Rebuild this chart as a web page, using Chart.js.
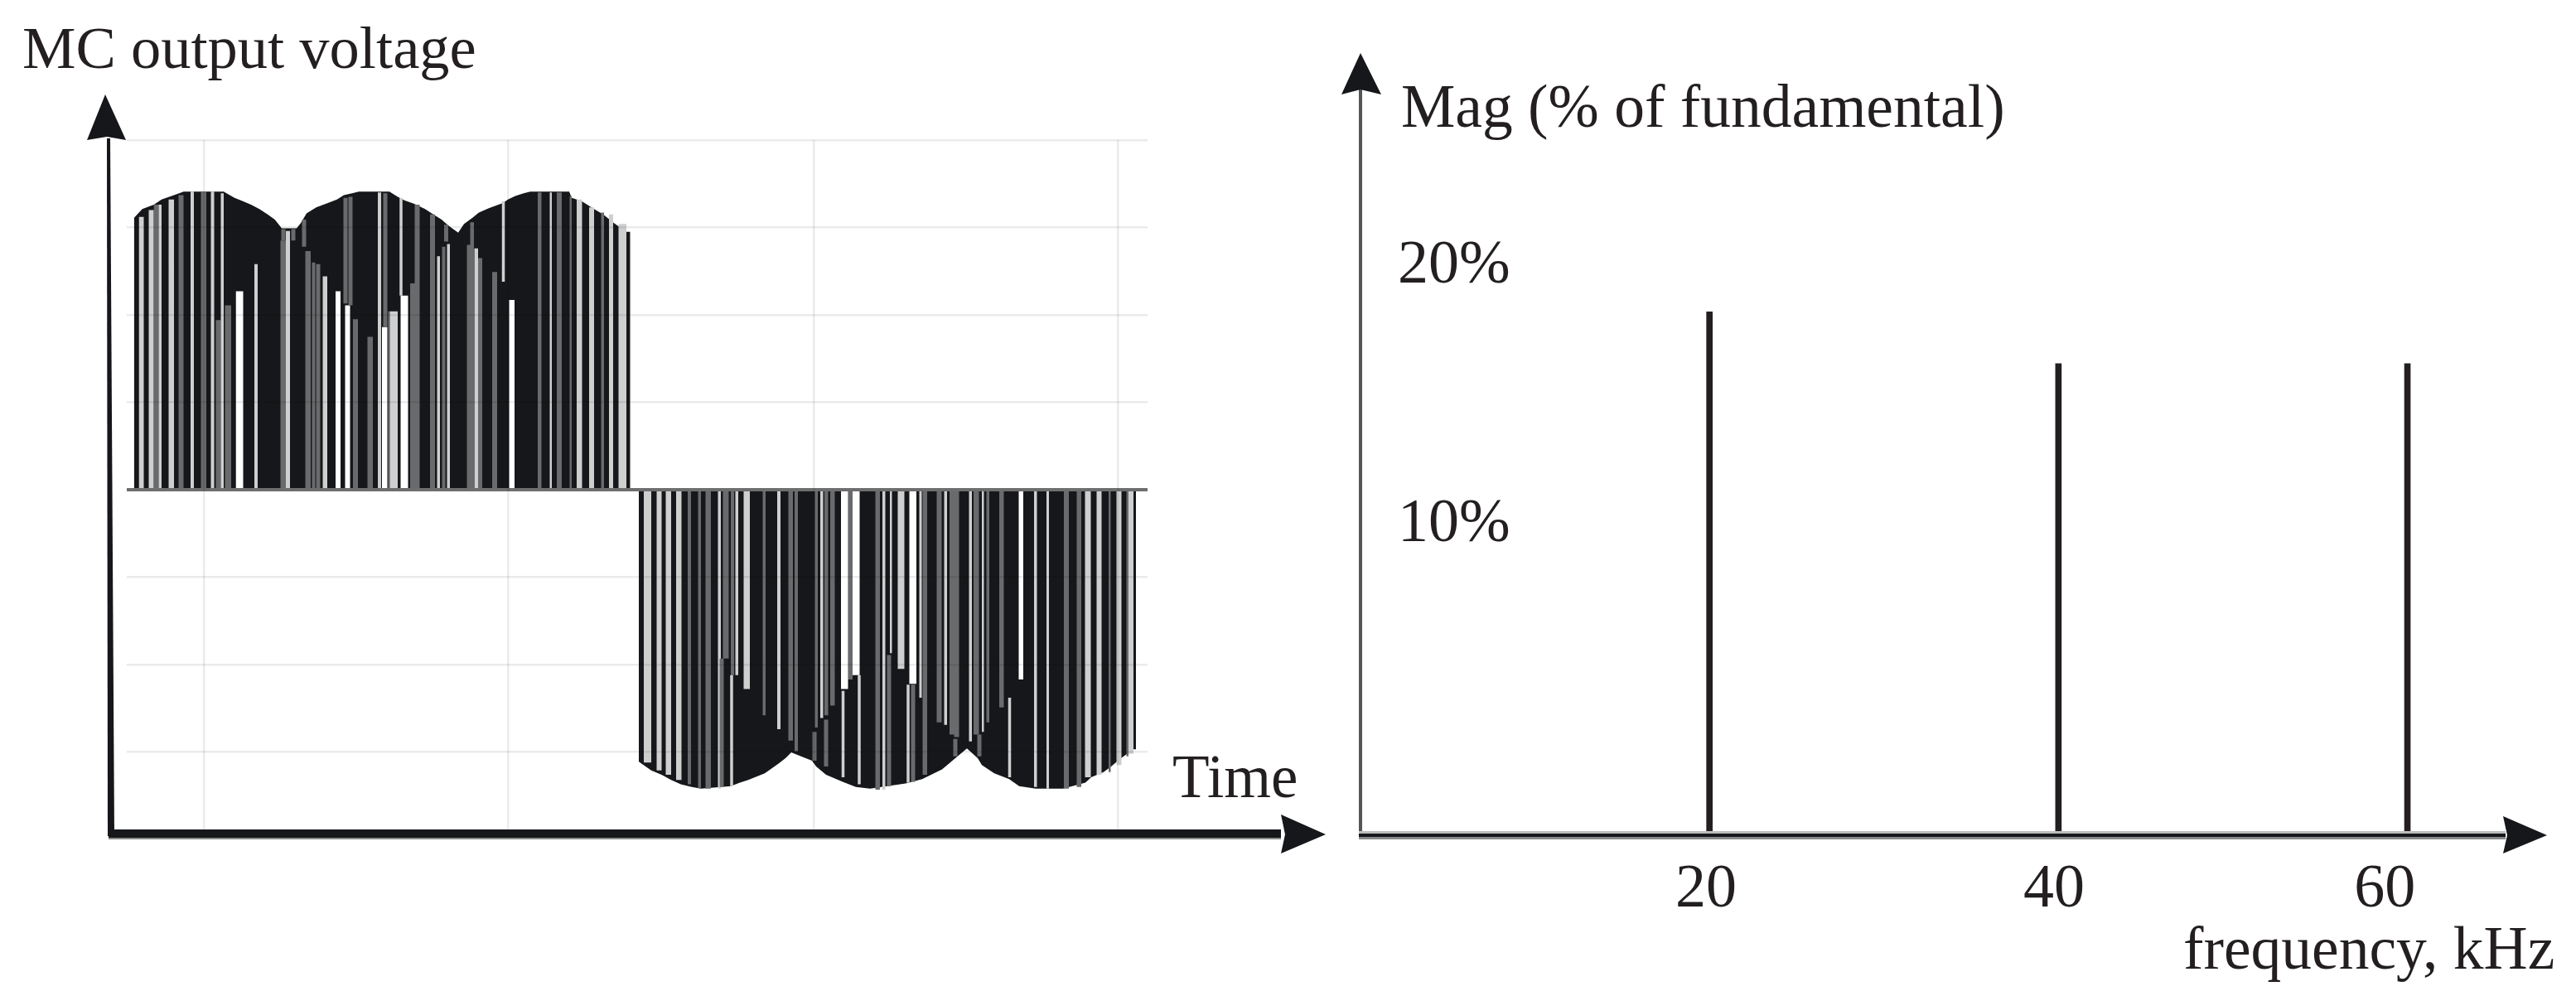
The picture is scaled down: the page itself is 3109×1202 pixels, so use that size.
<!DOCTYPE html>
<html>
<head>
<meta charset="utf-8">
<title>MC output voltage and spectrum</title>
<script src="https://cdn.jsdelivr.net/npm/chart.js@4"></script>
<style>
  html, body { margin: 0; padding: 0; background: #fff; overflow: hidden; }
  body { width: 3109px; height: 1202px; position: relative; filter: blur(.6px); }
  canvas { position: absolute; top: 0; }
  #voltage-chart { left: 0; }
  #spectrum-chart { left: 1610px; }
  .caption { position: absolute; font: 73.5px/72px "Liberation Serif", serif; color: #231f20; white-space: nowrap; }
</style>
</head>
<body>
<canvas id="voltage-chart" width="1610" height="1202"></canvas>
<canvas id="spectrum-chart" width="1499" height="1202"></canvas>
<div class="caption" style="left:27px;top:22px;font-size:72.5px">MC output voltage</div>
<div class="caption" style="left:1415px;top:902px;font-size:73px">Time</div>
<div class="caption" style="left:1691px;top:93px">Mag (% of fundamental)</div>
<div class="caption" style="left:2635px;top:1109px">frequency, kHz</div>
<script>
// ── Spectrum data ────────────────────────────────────────────────
const freqKHz = [20, 40, 60];
const magPct = [18.2, 16.4, 16.4];
const freqTickPos = [19.8, 39.75, 58.7];
const freqTickLabels = ['20', '40', '60'];
const magTickPos = [10.78, 19.77];
const magTickLabels = ['10%', '20%'];

// ── Waveform data ────────────────────────────────────────────────
const timeGrid = [93, 460, 829, 1196];
const voltGrid = [400, 300, 200, 100, -100, -200, -300];

// envelope: time, level
const posEnvTime = [8.7, 18.7, 32.7, 42, 57, 68.7, 117, 130, 140, 150, 160, 170, 178.7, 183.7, 187, 205, 210, 217, 228.7, 240, 253.7, 262, 272, 280, 317, 327, 335, 347, 360, 370, 380, 387, 394, 400, 407, 417, 425, 437, 454, 460, 469, 479, 487, 534, 537, 549, 564, 575, 588, 603];
const posEnvVolt = [311, 321, 326, 332, 337, 341, 341, 334, 330, 326, 321, 315, 309, 303, 299, 299, 305, 316, 323, 327, 332, 337, 339, 341, 341, 335, 331, 327, 321, 315, 309, 303, 298, 294, 304, 311, 317, 322, 328, 332, 336, 339, 341, 341, 334, 330, 321, 315, 305, 295];
const posEndTime = 607.7;
const negEnvTime = [618, 633, 645.5, 657, 668.7, 682, 693, 729, 740, 750, 770, 787, 795, 802, 815, 827, 832, 844, 864, 880, 897, 940, 960, 984, 1000, 1014, 1027, 1032, 1047, 1065, 1077, 1097, 1130, 1157, 1164, 1179, 1188, 1200, 1215];
const negEnvVolt = [-311, -321, -326, -332, -337, -340, -342, -339, -335, -332, -324.5, -313, -307, -300.5, -305.5, -310, -316.5, -326, -334, -340, -342, -336, -331, -320, -307, -296, -307, -315, -324.5, -331, -339, -342, -342, -335, -329, -323, -316.5, -307, -297];
const negEndTime = 1218;

// gaps in the pulse train: start, end, level the white reaches
const posGapsWhite = [[131.5, 140.5, 227], [252, 258, 227], [263.5, 269.5, 211], [308, 314.5, 186], [330.5, 339.5, 222], [461.5, 468, 217]];
const posGapsLight = [[14.5, 20.5, 312], [26.5, 32.5, 320], [38.5, 42, 326], [50.5, 57, 332], [77, 81, 341], [101.5, 105.5, 341], [113.5, 117, 339], [154, 158, 258], [192, 197, 296], [236.5, 242, 244], [303, 307, 340], [317.5, 327, 204], [374.5, 378, 267], [386.5, 390, 281], [419.5, 424, 276], [510.5, 513, 340], [543, 549.5, 332], [558, 564, 323], [582, 587, 315], [593.5, 603, 304]];
const posGapsGrey = [[32.5, 38.5, 326], [62.5, 68.5, 337], [89.5, 96, 341], [107.5, 113.5, 194], [118.5, 126, 211], [185.5, 192, 285], [215.5, 222, 273], [223.5, 227.5, 260], [228.5, 233.5, 258], [273, 279, 195], [290.5, 297, 175], [315.5, 317.5, 204], [342, 347.5, 236], [347.5, 353.5, 326], [366, 372, 315], [380.5, 384.5, 278], [410.5, 414.5, 280], [414.5, 419, 306], [424, 429, 265], [441, 447, 249], [496, 500.5, 340], [519, 525, 340], [534.5, 537, 336], [572.5, 576, 317]];
const negGapsWhite = [[862, 870.5, -228], [876, 884.5, -212], [944.5, 953, -222], [1076.5, 1082, -217]];
const negGapsLight = [[624, 633, -312], [639.5, 645.5, -321], [650.5, 657, -326], [663, 669.5, -332], [713.5, 717, -342], [734.5, 738, -212], [744.5, 752, -228], [785, 789, -274], [837, 840.5, -261], [912, 915.5, -343], [921, 923.5, -187], [930.5, 938.5, -205], [956.5, 959.5, -238], [986.5, 990, -269], [1016.5, 1020, -288], [1032, 1034.5, -277], [1095, 1098.5, -340], [1110, 1113, -342], [1156.5, 1163.5, -329], [1170.5, 1176.5, -326], [1194.5, 1200.5, -315], [1209, 1215, -302]];
const negGapsGrey = [[677, 681, -337], [689.5, 693, -341], [698.5, 705, -342], [719.5, 726.5, -193], [729, 733, -212], [767.5, 771, -258], [798.5, 804, -287], [806, 810, -299], [830.5, 834, -272], [842, 846.5, -258], [849, 854.5, -247], [870.5, 876, -217], [903.5, 909, -343], [960.5, 966, -326], [977.5, 983.5, -266], [993, 998.5, -280], [998.5, 1004.5, -283], [1022, 1028.5, -280], [1037.5, 1041, -266], [1053, 1058.5, -249], [1131, 1137, -342], [1146.5, 1152, -340], [1185, 1187.5, -323], [1206.5, 1209, -305]];

// narrow slits that don't reach the zero line: time, from, to
const slitsGrey = [[189, 298, 285], [201, 298, 285], [214, 309, 278], [264, 334, 213], [270, 335, 211], [312, 339, 186], [385.5, 303, 284], [718, -193, -340], [830, -277, -310], [844, -263, -316.5], [920, -189, -339], [949, -223, -334], [1000, -285, -305], [1029, -280, -305]];
const slitsLight = [[331, 334, 222], [454.5, 330, 238], [730, -212, -339], [864.5, -230, -329], [884, -212, -337], [943, -223, -335], [1065.5, -238, -329]];

const zeroLineTime = [0, 1232];

// ── Builders ─────────────────────────────────────────────────────
const envPoints = (times, volts, end) => [
  { x: times[0], y: 0 },
  ...times.map((x, i) => ({ x, y: volts[i] })),
  { x: end, y: volts[volts.length - 1] },
  { x: end, y: 0 }
];
const gapPoints = (gaps) => gaps.flatMap(([a, b, v]) => [{ x: a, y: 0 }, { x: a, y: v }, { x: b, y: v }, { x: b, y: 0 }]);
const slitPoints = (slits) => slits.flatMap(([t, a, b]) => [{ x: t, y: a }, { x: t, y: b }, { x: t, y: null }]);

const filled = (data, color, order) => ({ data, order, backgroundColor: color, borderWidth: 0, pointRadius: 0, fill: 'origin', tension: 0 });
const slit = (data, color, width, order) => ({ data, order, borderColor: color, borderWidth: width, pointRadius: 0, fill: false, spanGaps: false });

const BLACK = '#15171a', LIGHT = '#cfcfcf', GREY = '#686a6c';

// ── Axis arrows ──────────────────────────────────────────────────
const poly = (ctx, color, pts) => {
  ctx.fillStyle = color;
  ctx.beginPath();
  pts.forEach(([x, y], i) => i ? ctx.lineTo(x, y) : ctx.moveTo(x, y));
  ctx.closePath();
  ctx.fill();
};

const voltageAxes = {
  id: 'voltageAxes',
  afterDraw(chart) {
    const { ctx, chartArea: a } = chart;
    ctx.save();
    poly(ctx, '#8a8a8a', [[a.left - 22, a.bottom + 7], [a.left + 1393, a.bottom + 7], [a.left + 1393, a.bottom + 12], [a.left - 22, a.bottom + 12]]);
    poly(ctx, BLACK, [[a.left - 22, a.bottom], [a.left + 1393, a.bottom], [a.left + 1393, a.bottom + 10], [a.left - 22, a.bottom + 10]]);
    poly(ctx, BLACK, [[a.left + 1393, a.bottom - 18], [a.left + 1447, a.bottom + 6], [a.left + 1393, a.bottom + 29], [a.left + 1398, a.bottom + 6]]);
    poly(ctx, BLACK, [[a.left - 24, a.top - 2], [a.left - 20, a.top - 2], [a.left - 15, a.bottom + 8], [a.left - 23, a.bottom + 8]]);
    poly(ctx, BLACK, [[a.left - 26, a.top - 55], [a.left - 1, a.top], [a.left - 24, a.top - 4], [a.left - 48, a.top]]);
    ctx.restore();
  }
};

const spectrumAxes = {
  id: 'spectrumAxes',
  afterDraw(chart) {
    const { ctx, chartArea: a } = chart;
    ctx.save();
    poly(ctx, '#555', [[a.left - 2, a.top + 40], [a.left + 2, a.top + 40], [a.left + 2, a.bottom], [a.left - 2, a.bottom]]);
    poly(ctx, '#bdbdbd', [[a.left - 2, a.bottom - 5], [a.right - 50, a.bottom - 5], [a.right - 50, a.bottom + 1], [a.left - 2, a.bottom + 1]]);
    poly(ctx, '#8a8a8a', [[a.left - 2, a.bottom + 1], [a.right - 50, a.bottom + 1], [a.right - 50, a.bottom + 5], [a.left - 2, a.bottom + 5]]);
    poly(ctx, BLACK, [[a.left - 2, a.bottom - 2], [a.right - 50, a.bottom - 2], [a.right - 50, a.bottom + 2], [a.left - 2, a.bottom + 2]]);
    poly(ctx, BLACK, [[a.right - 53, a.bottom - 23], [a.right, a.bottom], [a.right - 53, a.bottom + 22], [a.right - 48, a.bottom]]);
    poly(ctx, BLACK, [[a.left, a.top], [a.left + 25, a.top + 50], [a.left, a.top + 44], [a.left - 23, a.top + 50]]);
    ctx.restore();
  }
};

// ── Left chart: output voltage ───────────────────────────────────
new Chart(document.getElementById('voltage-chart'), {
  type: 'line',
  data: {
    datasets: [
      filled(envPoints(posEnvTime, posEnvVolt, posEndTime), BLACK, 20),
      filled(envPoints(negEnvTime, negEnvVolt, negEndTime), BLACK, 19),
      filled(gapPoints(posGapsGrey), GREY, 18),
      filled(gapPoints(negGapsGrey), GREY, 17),
      filled(gapPoints(posGapsLight), LIGHT, 16),
      filled(gapPoints(negGapsLight), LIGHT, 15),
      filled(gapPoints(posGapsWhite), '#fff', 14),
      filled(gapPoints(negGapsWhite), '#fff', 13),
      slit(slitPoints(slitsGrey), GREY, 5, 12),
      slit(slitPoints(slitsLight), LIGHT, 3.5, 11),
      { data: zeroLineTime.map(x => ({ x, y: 0 })), order: 1, borderColor: '#6e6e6e', borderWidth: 4, pointRadius: 0, fill: false }
    ]
  },
  options: {
    responsive: false,
    animation: false,
    events: [],
    layout: { padding: { left: 153, top: 169, right: 225, bottom: 201 } },
    plugins: { legend: { display: false }, tooltip: { enabled: false } },
    scales: {
      x: {
        type: 'linear', min: 0, max: 1232,
        afterBuildTicks: axis => { axis.ticks = timeGrid.map(value => ({ value })); },
        ticks: { display: false },
        border: { display: false },
        grid: { z: 1, color: 'rgba(0,0,0,0.08)', lineWidth: 2.5, drawTicks: false }
      },
      y: {
        type: 'linear', min: -388.6, max: 400,
        afterBuildTicks: axis => { axis.ticks = voltGrid.map(value => ({ value })); },
        ticks: { display: false },
        border: { display: false },
        grid: { z: 1, color: 'rgba(0,0,0,0.08)', lineWidth: 2.5, drawTicks: false }
      }
    }
  },
  plugins: [voltageAxes]
});

// ── Right chart: harmonic spectrum ───────────────────────────────
const tickFont = { family: '"Liberation Serif", serif', size: 74 };

new Chart(document.getElementById('spectrum-chart'), {
  type: 'bar',
  data: {
    datasets: [{
      data: freqKHz.map((x, i) => ({ x, y: magPct[i] })),
      backgroundColor: '#231f20',
      barThickness: 7
    }]
  },
  options: {
    responsive: false,
    animation: false,
    events: [],
    layout: { padding: { left: 32, top: 64, right: 35, bottom: 0 } },
    plugins: { legend: { display: false }, tooltip: { enabled: false } },
    scales: {
      x: {
        type: 'linear', min: 0, max: 68, offset: false,
        afterBuildTicks: axis => { axis.ticks = freqTickPos.map(value => ({ value })); },
        afterFit: axis => { axis.height = 194; axis.paddingLeft = 0; axis.paddingRight = 0; },
        ticks: { font: tickFont, color: '#231f20', padding: 22, maxRotation: 0, autoSkip: false, callback: (v, i) => freqTickLabels[i] },
        border: { display: false },
        grid: { display: false, drawTicks: false }
      },
      y: {
        type: 'linear', min: 0, max: 27.2,
        afterBuildTicks: axis => { axis.ticks = magTickPos.map(value => ({ value })); },
        afterFit: axis => { axis.width = 0; axis.paddingTop = 0; axis.paddingBottom = 0; },
        ticks: { font: tickFont, color: '#231f20', mirror: true, padding: 45, autoSkip: false, callback: (v, i) => magTickLabels[i] },
        border: { display: false },
        grid: { display: false, drawTicks: false }
      }
    }
  },
  plugins: [spectrumAxes]
});
</script>
</body>
</html>
